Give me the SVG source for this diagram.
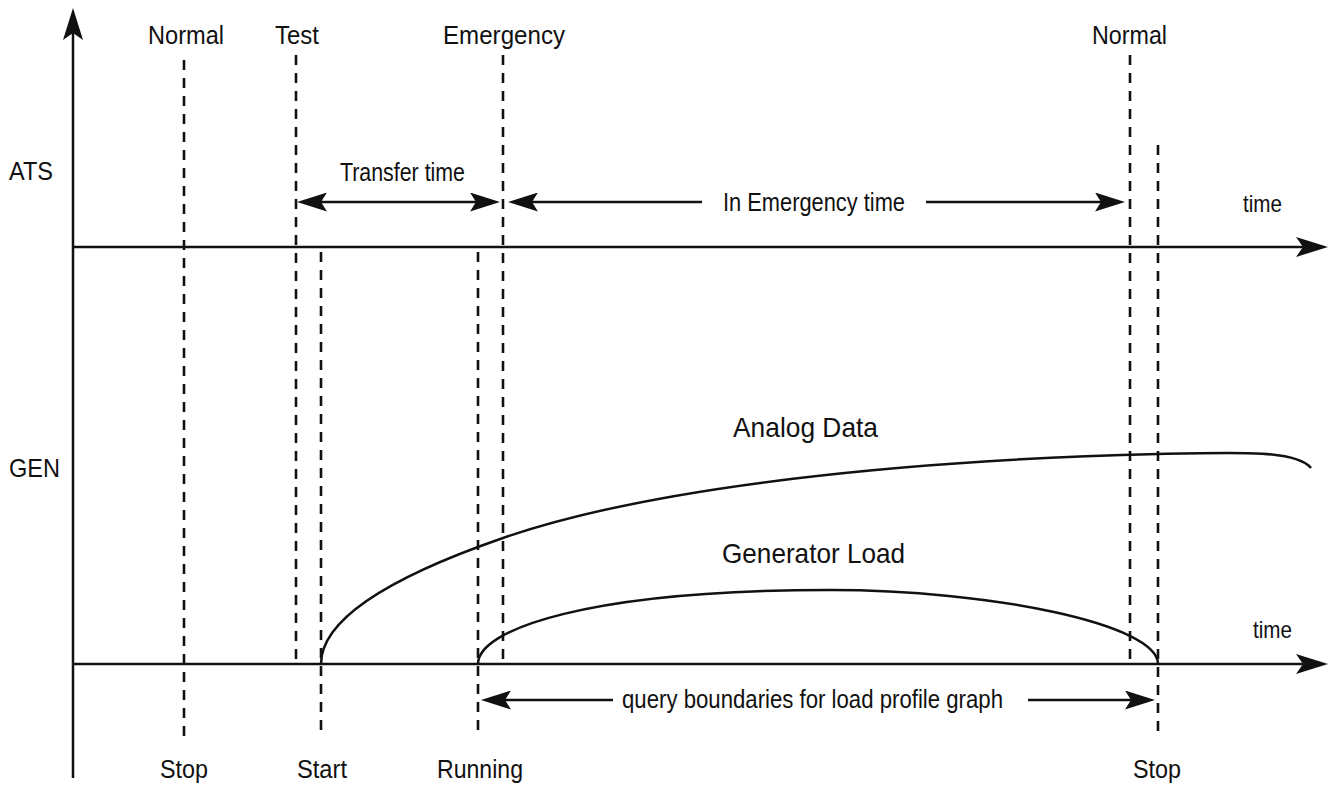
<svg xmlns="http://www.w3.org/2000/svg" width="1333" height="789" viewBox="0 0 1333 789">
  <style>
    .ax { stroke: #111; stroke-width: 2.5; fill: none; }
    .dash { stroke: #111; stroke-width: 2.6; fill: none; stroke-dasharray: 10 8; }
    .crv { stroke: #111; stroke-width: 2.5; fill: none; }
    .arr { stroke: #111; stroke-width: 2.3; fill: none; }
    text { font-family: "Liberation Sans", Arial, sans-serif; fill: #111; }
    .lb { font-size: 26px; }
    .sm { font-size: 25px; }
    .bg { font-size: 28px; }
    .tm { font-size: 24px; }
  </style>
  <defs>
    <marker id="ah" viewBox="0 0 30 19" refX="24" refY="9.5" markerWidth="30" markerHeight="19" markerUnits="userSpaceOnUse" orient="auto-start-reverse">
      <path d="M0,0 L30,9.5 L0,19 L6,9.5 Z" fill="#111"/>
    </marker>
    <marker id="ah2" viewBox="0 0 32 20" refX="26" refY="10" markerWidth="32" markerHeight="20" markerUnits="userSpaceOnUse" orient="auto-start-reverse">
      <path d="M0,0 L32,10 L0,20 L7,10 Z" fill="#111"/>
    </marker>
  </defs>

  <rect width="1333" height="789" fill="#fff"/>

  <g id="axes">
    <line class="ax" x1="73" y1="778" x2="73" y2="14" marker-end="url(#ah2)"/>
    <line class="ax" x1="73" y1="247" x2="1322" y2="247" marker-end="url(#ah2)"/>
    <line class="ax" x1="73" y1="664" x2="1322" y2="664" marker-end="url(#ah2)"/>
  </g>

  <g id="guides">
    <line id="g-normal-stop" class="dash" x1="184" y1="60" x2="184" y2="736"/>
    <line id="g-test" class="dash" x1="296" y1="55" x2="296" y2="665"/>
    <line id="g-start" class="dash" x1="321" y1="252" x2="321" y2="736"/>
    <line id="g-running" class="dash" x1="478" y1="252" x2="478" y2="736"/>
    <line id="g-emergency" class="dash" x1="503" y1="55" x2="503" y2="665"/>
    <line id="g-normal2" class="dash" x1="1130" y1="55" x2="1130" y2="665"/>
    <line id="g-stop2" class="dash" x1="1158" y1="145" x2="1158" y2="736"/>
  </g>

  <g id="curves">
    <path id="analog-data" class="crv" d="M321,664 Q321,601 503,538 C653,486 908,460 1158,454 C1240,452 1296,450 1311,468"/>
    <path id="generator-load" class="crv" d="M478,664 C478,629 590,590 830,590 C990,590 1158,624 1158,664"/>
  </g>

  <g id="connectors">
    <line class="arr" x1="303" y1="202" x2="494" y2="202" marker-start="url(#ah)" marker-end="url(#ah)"/>
    <line class="arr" x1="702" y1="202" x2="514" y2="202" marker-end="url(#ah)"/>
    <line class="arr" x1="926" y1="202" x2="1119" y2="202" marker-end="url(#ah)"/>
    <line class="arr" x1="613" y1="700" x2="487" y2="700" marker-end="url(#ah)"/>
    <line class="arr" x1="1028" y1="700" x2="1149" y2="700" marker-end="url(#ah)"/>
  </g>

  <g id="top-labels">
    <text class="lb" x="148" y="44" textLength="76" lengthAdjust="spacingAndGlyphs">Normal</text>
    <text class="lb" x="275" y="44" textLength="44" lengthAdjust="spacingAndGlyphs">Test</text>
    <text class="lb" x="443" y="44" textLength="122" lengthAdjust="spacingAndGlyphs">Emergency</text>
    <text class="lb" x="1092" y="44" textLength="75" lengthAdjust="spacingAndGlyphs">Normal</text>
  </g>

  <g id="axis-labels">
    <text class="lb" x="9" y="180" textLength="44" lengthAdjust="spacingAndGlyphs">ATS</text>
    <text class="lb" x="9" y="477" textLength="51" lengthAdjust="spacingAndGlyphs">GEN</text>
    <text class="tm" x="1243" y="212" textLength="39" lengthAdjust="spacingAndGlyphs">time</text>
    <text class="tm" x="1253" y="638" textLength="39" lengthAdjust="spacingAndGlyphs">time</text>
  </g>

  <g id="interval-labels">
    <text class="sm" x="340" y="181" textLength="125" lengthAdjust="spacingAndGlyphs">Transfer time</text>
    <text class="sm" x="723" y="211" textLength="182" lengthAdjust="spacingAndGlyphs">In Emergency time</text>
    <text class="sm" x="622" y="708" textLength="381" lengthAdjust="spacingAndGlyphs">query boundaries for load profile graph</text>
  </g>

  <g id="curve-labels">
    <text class="bg" x="733" y="437" textLength="145" lengthAdjust="spacingAndGlyphs">Analog Data</text>
    <text class="bg" x="722" y="563" textLength="183" lengthAdjust="spacingAndGlyphs">Generator Load</text>
  </g>

  <g id="bottom-labels">
    <text class="lb" x="160" y="778" textLength="48" lengthAdjust="spacingAndGlyphs">Stop</text>
    <text class="lb" x="297" y="778" textLength="50" lengthAdjust="spacingAndGlyphs">Start</text>
    <text class="lb" x="437" y="778" textLength="86" lengthAdjust="spacingAndGlyphs">Running</text>
    <text class="lb" x="1133" y="778" textLength="48" lengthAdjust="spacingAndGlyphs">Stop</text>
  </g>
</svg>
